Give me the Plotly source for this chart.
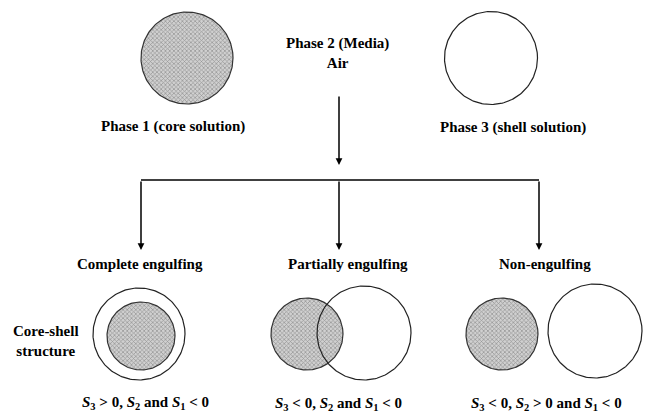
import numpy as np
import plotly.graph_objects as go

# diagram text
top_labels = ["Phase 1 (core solution)", "Phase 2 (Media)<br>Air", "Phase 3 (shell solution)"]
branch_labels = ["Complete engulfing", "Partially engulfing", "Non-engulfing"]
conditions = [
    "<i>S</i><sub>3</sub> > 0, <i>S</i><sub>2</sub> and <i>S</i><sub>1</sub> < 0",
    "<i>S</i><sub>3</sub> < 0, <i>S</i><sub>2</sub> and <i>S</i><sub>1</sub> < 0",
    "<i>S</i><sub>3</sub> < 0, <i>S</i><sub>2</sub> > 0 and <i>S</i><sub>1</sub> < 0",
]
side_label = "Core-shell<br>structure"

# circles: (cx, cy, r) in pixel-like units, y down
core_circles = [(187, 58, 46), (141, 336, 34), (307, 334, 36), (502, 334, 36)]
shell_circles = [(491, 58, 46.5), (139, 334, 46), (364, 333, 47), (595, 331, 47)]

FONT = "Liberation Serif"
W, H = 649, 414

fig = go.Figure()

t = np.linspace(0, 2 * np.pi, 200)


def circle(cx, cy, r, shaded):
    x = cx + r * np.cos(t)
    y = cy + r * np.sin(t)
    if shaded:
        return go.Scatter(x=x, y=y, mode="lines", fill="toself",
                          line=dict(color="#333", width=1.2),
                          fillcolor="#c0c0c0",
                          fillpattern=dict(shape="x", size=3, solidity=0.4,
                                           fgcolor="#555", bgcolor="#d0d0d0"),
                          hoverinfo="skip", showlegend=False)
    return go.Scatter(x=x, y=y, mode="lines",
                      line=dict(color="#222", width=1.2),
                      hoverinfo="skip", showlegend=False)


for c in core_circles:
    fig.add_trace(circle(*c, True))
for c in shell_circles:
    fig.add_trace(circle(*c, False))

# tree lines
fig.add_shape(type="line", x0=141, x1=539, y0=180, y1=180,
              line=dict(color="black", width=1.5))

arrows = [(339, 95, 339, 165), (141, 180, 141, 250), (339, 180, 339, 250), (539, 180, 539, 250)]
for x0, y0, x1, y1 in arrows:
    fig.add_annotation(x=x1, y=y1, ax=x0, ay=y0, xref="x", yref="y",
                       axref="x", ayref="y", text="", showarrow=True,
                       arrowhead=2, arrowsize=0.9, arrowwidth=1.5, arrowcolor="black")

font = dict(family=FONT, size=15, color="black")

top_pos = [(173, 126), (337, 53), (513, 127)]
for (x, y), s in zip(top_pos, top_labels):
    fig.add_annotation(x=x, y=y, text="<b>%s</b>" % s, showarrow=False, font=font)

branch_pos = [(140, 264), (348, 264), (545, 264)]
for (x, y), s in zip(branch_pos, branch_labels):
    fig.add_annotation(x=x, y=y, text="<b>%s</b>" % s, showarrow=False, font=font)

cond_pos = [(145, 403), (338, 404), (546, 404)]
for (x, y), s in zip(cond_pos, conditions):
    fig.add_annotation(x=x, y=y, text="<b>%s</b>" % s, showarrow=False, font=font)

fig.add_annotation(x=46, y=341, text="<b>%s</b>" % side_label, showarrow=False,
                   font=font, align="center")

fig.update_xaxes(range=[0, W], visible=False, fixedrange=True)
fig.update_yaxes(range=[H, 0], visible=False, fixedrange=True)
fig.update_layout(width=W, height=H, margin=dict(l=0, r=0, t=0, b=0),
                  plot_bgcolor="white", paper_bgcolor="white", showlegend=False)

fig.write_html("out.html", config={"displayModeBar": False},
               post_script="document.body.style.margin='0';")
